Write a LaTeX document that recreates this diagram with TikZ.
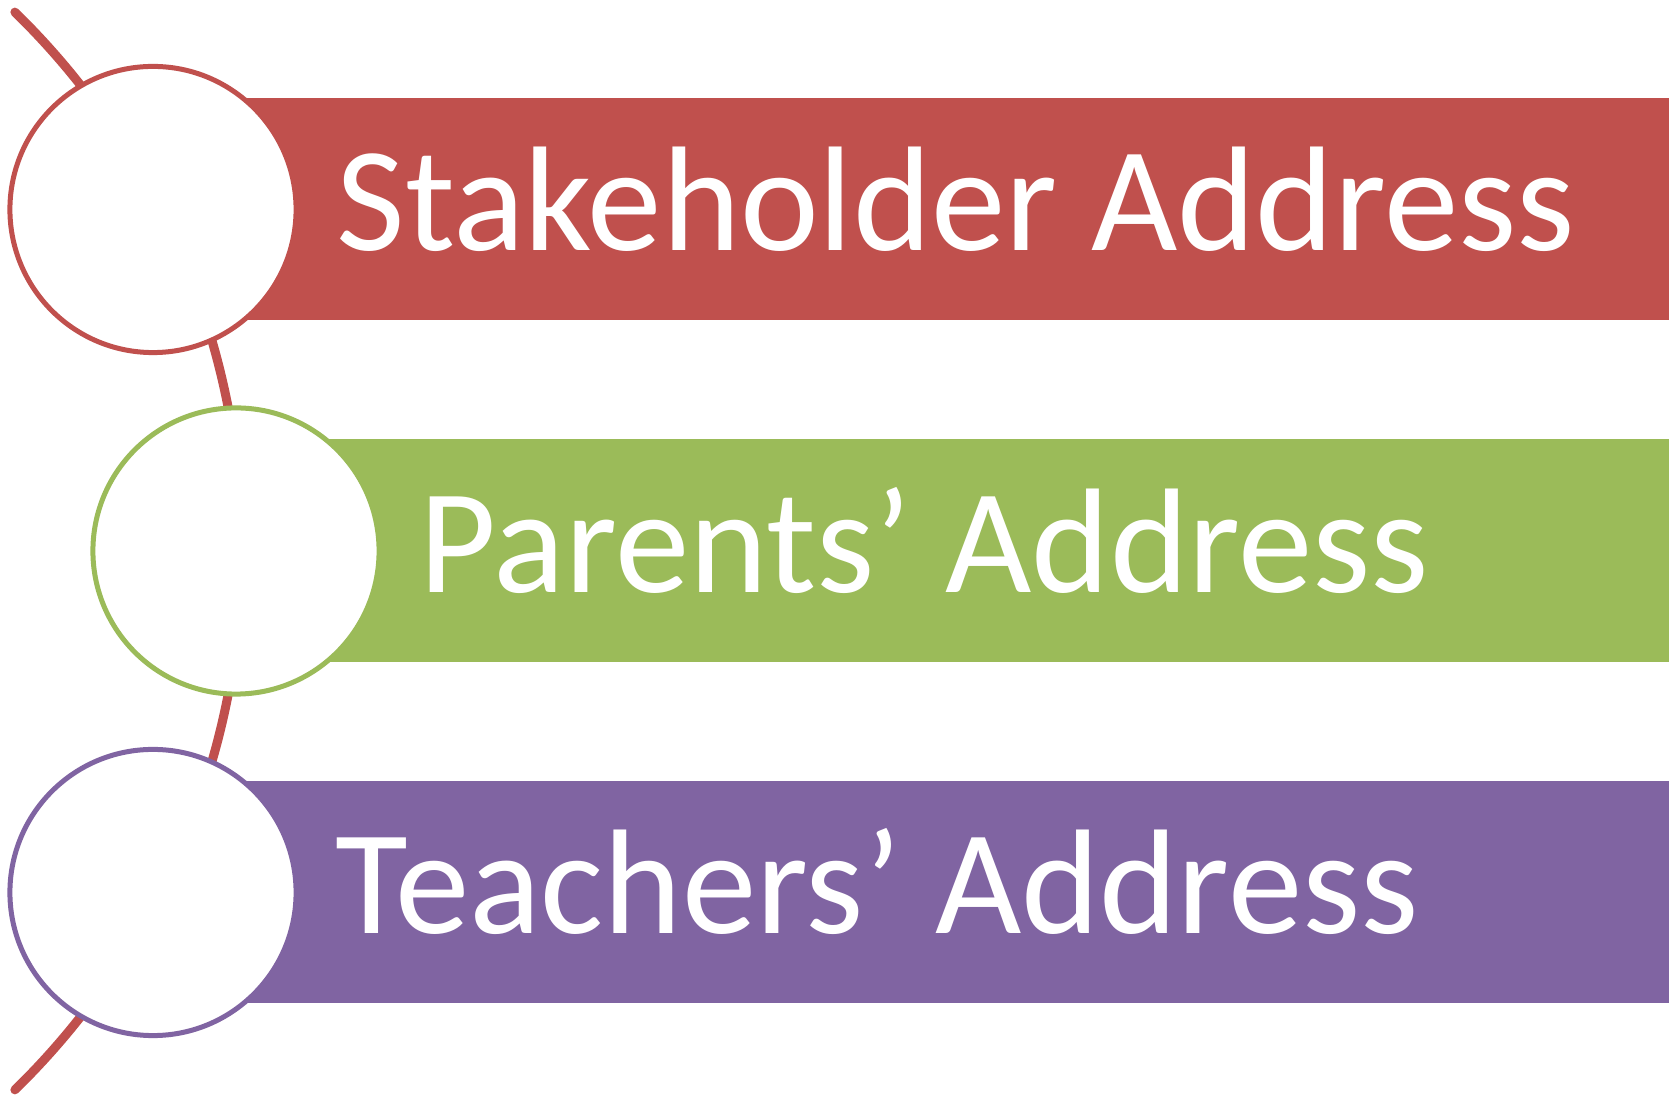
\documentclass[tikz,border=0pt]{standalone}
\usepackage{fontspec}
\setmainfont{Carlito}
\definecolor{cred}{HTML}{C0504D}
\definecolor{cgreen}{HTML}{9BBB59}
\definecolor{cpurple}{HTML}{8064A2}
\begin{document}
\begin{tikzpicture}[x=0.01cm,y=-0.01cm,
  ring/.style={circle,draw=#1,line width=0.05cm,fill=white,minimum size=2.86cm,inner sep=0pt},
  label/.style={anchor=base west,text=white,font=\fontsize{42.4pt}{50pt}\selectfont,inner sep=0pt}]
\useasboundingbox (0,0) rectangle (1669,1095);
% arc
\coordinate (arcc) at (-511,551);
\draw[cred,line width=0.09cm,line cap=round] (arcc) ++(-45.7:753) coordinate (arcs)
  arc[start angle=-45.7,end angle=45.7,radius=753] coordinate (arce);
% bands
\fill[cred] (152,98) rectangle (1669,320.5);
\fill[cgreen] (235,439.5) rectangle (1669,662);
\fill[cpurple] (152,781) rectangle (1669,1003.5);
% circles
\node[ring=cred] (c1) at (153,209.5) {};
\node[ring=cgreen] (c2) at (236,551) {};
\node[ring=cpurple] (c3) at (153,892.5) {};
% labels
\node[label] (t1) at (336,251) {Stakeholder Address};
\node[label] (t2) at (419,592.5) {Parents’ Address};
\node[label] (t3) at (335,934) {Teachers’ Address};
\end{tikzpicture}
\end{document}
